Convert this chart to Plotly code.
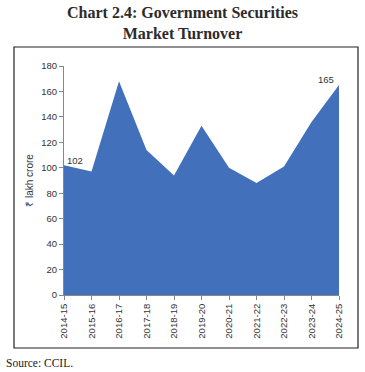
import plotly.graph_objects as go

years = ["2014-15", "2015-16", "2016-17", "2017-18", "2018-19", "2019-20",
         "2020-21", "2021-22", "2022-23", "2023-24", "2024-25"]
turnover = [102, 97, 168, 114, 94, 133, 100, 88, 101, 136, 165]
y_ticks = [0, 20, 40, 60, 80, 100, 120, 140, 160, 180]

W, H = 365, 372
L, R, T, B = 64, 26, 66, 77
pw, ph = W - L - R, H - T - B

def px(x):
    return (x - L) / pw

def py(y):
    return (H - B - y) / ph

fig = go.Figure()
fig.add_trace(go.Scatter(
    x=list(range(len(years))), y=turnover, mode="lines",
    fill="tozeroy", fillcolor="#4270BA",
    line=dict(width=0, color="#4270BA"), hoverinfo="skip", showlegend=False))

sans = "Liberation Sans, Arial, sans-serif"
tick_font = dict(family=sans, size=9.5, color="#333333")

fig.update_layout(
    width=W, height=H,
    margin=dict(l=L, r=R, t=T, b=B),
    paper_bgcolor="white", plot_bgcolor="white",
    xaxis=dict(
        range=[0, len(years) - 1], tickmode="array",
        tickvals=list(range(len(years))), ticktext=years,
        tickangle=-90, ticks="outside", ticklen=4, tickcolor="#888888",
        showline=True, linecolor="#888888", linewidth=1,
        showgrid=False, zeroline=False, tickfont=tick_font,
    ),
    yaxis=dict(
        range=[0, 180], tickmode="array", tickvals=y_ticks,
        ticks="outside", ticklen=4, tickcolor="#888888",
        showline=True, linecolor="#888888", linewidth=1,
        showgrid=False, zeroline=False, tickfont=tick_font,
        title=dict(text="₹ lakh crore", font=dict(family=sans, size=10, color="#333333"), standoff=5),
    ),
    shapes=[dict(type="rect", xref="paper", yref="paper",
                 x0=px(14), x1=px(358), y0=py(348), y1=py(47),
                 line=dict(color="#222222", width=1.2), fillcolor="rgba(0,0,0,0)", layer="above")],
    annotations=[
        dict(text="<b>Chart 2.4: Government Securities<br>Market Turnover</b>",
             xref="paper", yref="paper", x=px(182), y=py(2), xanchor="center", yanchor="top",
             showarrow=False, align="center",
             font=dict(family="Liberation Serif, DejaVu Serif, serif", size=16, color="#2b2b2b")),
        dict(text="Source: CCIL.", xref="paper", yref="paper", x=px(4), y=py(363),
             xanchor="left", yanchor="middle", showarrow=False,
             font=dict(family="Liberation Serif, DejaVu Serif, serif", size=11.5, color="#222222")),
        dict(text=str(turnover[0]), x=0, y=turnover[0], xref="x", yref="y",
             xanchor="left", yanchor="bottom", showarrow=False, xshift=1, yshift=-3,
             font=dict(family=sans, size=9.5, color="#333333")),
        dict(text=str(turnover[-1]), x=len(years) - 1, y=turnover[-1], xref="x", yref="y",
             xanchor="right", yanchor="bottom", showarrow=False, xshift=-3, yshift=-2,
             font=dict(family=sans, size=9.5, color="#333333")),
    ],
)

fig.write_html("out.html", config={"displayModeBar": False},
               post_script="document.body.style.margin='0px';document.body.style.padding='0px';")
